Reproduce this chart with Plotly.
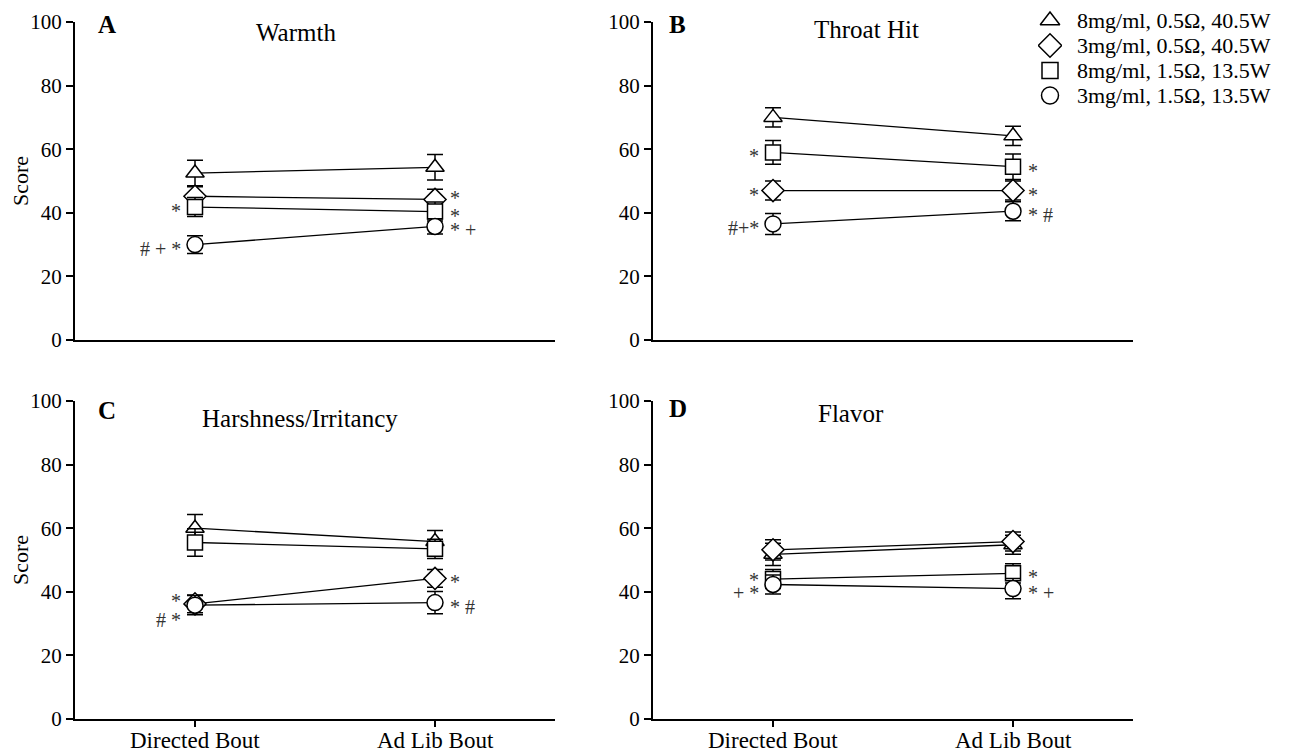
import plotly.graph_objects as go

# ---------------- data ----------------
conditions = ["Directed Bout", "Ad Lib Bout"]
series_names = ["8mg/ml, 0.5Ω, 40.5W", "3mg/ml, 0.5Ω, 40.5W",
                "8mg/ml, 1.5Ω, 13.5W", "3mg/ml, 1.5Ω, 13.5W"]
panel_titles = ["Warmth", "Throat Hit", "Harshness/Irritancy", "Flavor"]
panel_letters = ["A", "B", "C", "D"]

# means per panel: [triangle, diamond, square, circle]
warmth_mean = [[52.5, 54.3], [45.2, 44.2], [41.8, 40.4], [30.0, 35.7]]
warmth_se = [[4.0, 4.0], [3.0, 3.2], [3.0, 3.0], [2.8, 2.4]]
throat_mean = [[70.0, 64.2], [47.0, 47.0], [59.0, 54.5], [36.5, 40.5]]
throat_se = [[3.0, 3.0], [3.0, 3.0], [3.7, 4.0], [3.3, 3.0]]
harsh_mean = [[60.0, 55.8], [36.2, 44.2], [55.5, 53.5], [35.8, 36.6]]
harsh_se = [[4.3, 3.5], [2.8, 2.8], [4.3, 3.0], [3.0, 3.5]]
flavor_mean = [[51.8, 54.8], [53.2, 55.8], [44.0, 45.8], [42.3, 41.0]]
flavor_se = [[3.5, 3.0], [3.2, 3.0], [3.0, 3.0], [3.0, 3.2]]

y_ticks = [0, 20, 40, 60, 80, 100]

# significance labels: (panel, condition index, series index, text)
sig_labels = [
    (0, 0, 2, "*"), (0, 0, 3, "# + *"),
    (0, 1, 2, "*"), (0, 1, 3, "* +"),
    (1, 0, 2, "*"), (1, 0, 1, "*"), (1, 0, 3, "#+*"),
    (1, 1, 2, "*"), (1, 1, 1, "*"), (1, 1, 3, "* #"),
    (2, 1, 1, "*"), (2, 1, 3, "* #"),
    (3, 1, 2, "*"), (3, 1, 3, "* +"),
]
# labels at explicit score levels: (panel, condition index, score, text)
sig_labels_free = [
    (0, 1, 46.0, "*"),
    (2, 0, 38.5, "*"), (2, 0, 32.5, "# *"),
    (3, 0, 45.0, "*"), (3, 0, 40.8, "+ *"),
]

means = [warmth_mean, throat_mean, harsh_mean, flavor_mean]
ses = [warmth_se, throat_se, harsh_se, flavor_se]
symbols = ["triangle-up", "diamond", "square", "circle"]
sizes = [16, 17, 15, 16]

W, H = 1290, 756
FONT = "Liberation Serif"
OFF = 8  # page body margin


def px(x):
    return min(1.0, max(0.0, (x - OFF) / W))


def py(y):
    return min(1.0, max(0.0, 1 - (y - OFF) / H))


# panel pixel geometry (screen pixels)
x_dom_px = [(75, 555), (653, 1133), (75, 555), (653, 1133)]
y_dom_px = [(22, 340), (22, 340), (401, 719), (401, 719)]

fig = go.Figure()
axis_ids = ["", "2", "3", "4"]

for p in range(4):
    xid = "x" + axis_ids[p]
    yid = "y" + axis_ids[p]
    xs = [0, 1]
    for s in range(4):
        fig.add_trace(go.Scatter(
            x=xs, y=means[p][s], mode="lines", xaxis=xid, yaxis=yid,
            line=dict(color="black", width=1.3), showlegend=False, hoverinfo="skip"))
    for s in range(4):
        fig.add_trace(go.Scatter(
            x=xs, y=means[p][s], mode="markers", xaxis=xid, yaxis=yid,
            marker=dict(symbol=symbols[s], size=sizes[s], color="white",
                        line=dict(color="black", width=1.5)),
            error_y=dict(type="data", array=ses[p][s], color="black",
                         thickness=1.5, width=8),
            showlegend=False, name=series_names[s]))

# custom legend on its own hidden axis
leg_rows = list(range(len(series_names)))
for s in range(4):
    fig.add_trace(go.Scatter(
        x=[0], y=[leg_rows[s]], mode="markers", xaxis="x5", yaxis="y5",
        marker=dict(symbol=symbols[s], size=sizes[s] + 1, color="white",
                    line=dict(color="black", width=1.5)),
        showlegend=False, hoverinfo="skip"))

layout = dict(
    width=W, height=H, paper_bgcolor="white", plot_bgcolor="white",
    margin=dict(l=0, r=0, t=0, b=0, autoexpand=False),
    font=dict(family=FONT, color="black", size=20),
    showlegend=False,
)

for p in range(4):
    x0, x1 = x_dom_px[p]
    yt, yb = y_dom_px[p]
    bottom = p >= 2
    xa = dict(domain=[px(x0), px(x1)], range=[-0.5, 1.5], showline=True,
              linecolor="black", linewidth=2, showgrid=False, zeroline=False,
              tickvals=[0, 1], showticklabels=False,
              ticks="outside" if bottom else "",
              ticklen=6, tickwidth=2, tickcolor="black", automargin=False,
              anchor="y" + axis_ids[p])
    ya = dict(domain=[py(yb), py(yt)], range=[0, 100], showline=True,
              linecolor="black", linewidth=2, showgrid=False, zeroline=False,
              tickvals=y_ticks, ticks="outside", ticklen=7, tickwidth=2,
              tickcolor="black", tickfont=dict(family=FONT, size=21),
              automargin=False, anchor="x" + axis_ids[p])
    if p in (0, 2):
        ya["title"] = dict(text="Score", font=dict(family=FONT, size=22), standoff=6)
    layout["xaxis" + axis_ids[p]] = xa
    layout["yaxis" + axis_ids[p]] = ya

# legend axis: rows from top
leg_top, leg_bot = 8, 108
layout["xaxis5"] = dict(domain=[px(1038), px(1062)], range=[-1, 1], visible=False,
                        fixedrange=True)
layout["yaxis5"] = dict(domain=[py(leg_bot), py(leg_top)], range=[3.5, -0.5],
                        visible=False, fixedrange=True, anchor="x5")

annotations = []
for s in range(4):
    yy = leg_top + (leg_bot - leg_top) * (s + 0.5) / 4
    annotations.append(dict(text=series_names[s], x=px(1075), y=py(yy),
                            xref="paper", yref="paper", showarrow=False,
                            xanchor="left", yanchor="middle",
                            font=dict(family=FONT, size=22)))

# category labels under the bottom panels (placed on the x axes' category positions)
for p in (2, 3):
    for c, lab in enumerate(conditions):
        annotations.append(dict(text=lab, x=c, y=py(740), xref="x" + axis_ids[p],
                                yref="paper", showarrow=False, xanchor="center",
                                yanchor="middle", font=dict(family=FONT, size=23)))

title_pos = [(296, 33), (866, 30), (300, 418), (851, 413)]
letter_pos = [(107, 25), (677, 25), (107, 411), (678, 408)]
for p in range(4):
    tx, ty = title_pos[p]
    annotations.append(dict(text=panel_titles[p], x=px(tx), y=py(ty),
                            xref="paper", yref="paper", showarrow=False,
                            xanchor="center", yanchor="middle",
                            font=dict(family=FONT, size=25)))
    lx, ly = letter_pos[p]
    annotations.append(dict(text="<b>" + panel_letters[p] + "</b>", x=px(lx), y=py(ly),
                            xref="paper", yref="paper", showarrow=False,
                            xanchor="center", yanchor="middle",
                            font=dict(family=FONT, size=25)))


def sig_ann(p, c, yv, text):
    xid = "x" + axis_ids[p]
    yid = "y" + axis_ids[p]
    common = dict(text=text, x=c, y=yv, xref=xid, yref=yid, showarrow=False,
                  yanchor="middle", yshift=-4,
                  font=dict(family=FONT, size=20, color="#333333"))
    if c == 0:
        common.update(xanchor="right", xshift=-12)
    else:
        common.update(xanchor="left", xshift=13)
    return common


for p, c, s, text in sig_labels:
    annotations.append(sig_ann(p, c, means[p][s][c], text))
for p, c, yv, text in sig_labels_free:
    annotations.append(sig_ann(p, c, yv, text))

layout["annotations"] = annotations
fig.update_layout(**layout)

fig.write_html("out.html")
